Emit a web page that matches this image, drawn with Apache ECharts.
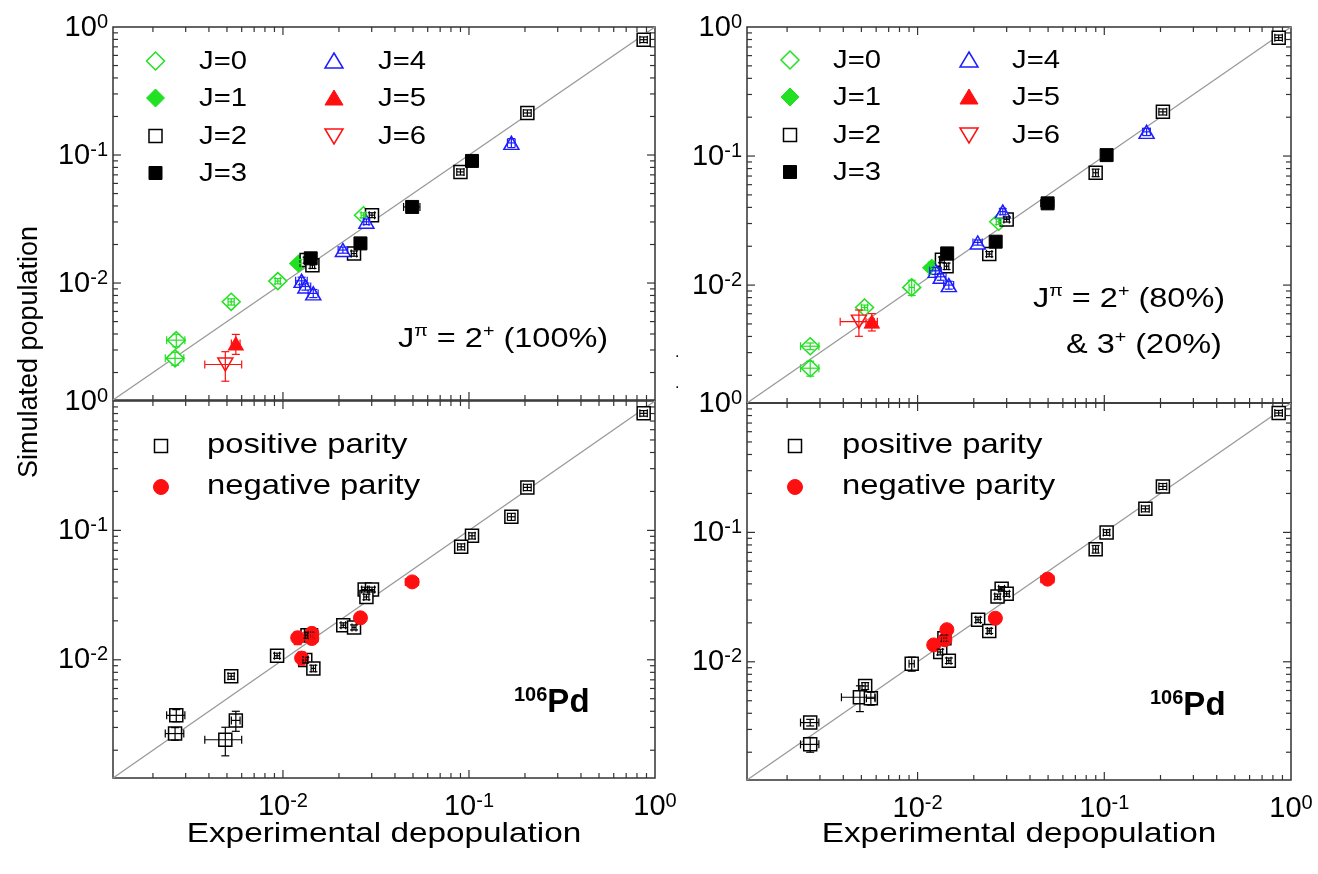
<!DOCTYPE html>
<html><head><meta charset="utf-8">
<script src="https://cdn.jsdelivr.net/npm/echarts@6/dist/echarts.min.js"></script>
<style>html,body{margin:0;padding:0;background:#fff}#c{width:1318px;height:874px}</style>
</head><body><div id="c"></div>
<script>
// ---------- axis ----------
const AXIS_MIN = 0.00122, AXIS_MAX = 1;
const majorTicks = [0.01, 0.1];
const minorTicks = [0.002,0.003,0.004,0.005,0.006,0.007,0.008,0.009,
                    0.02,0.03,0.04,0.05,0.06,0.07,0.08,0.09,
                    0.2,0.3,0.4,0.5,0.6,0.7,0.8,0.9];
const diagonal = [AXIS_MIN, AXIS_MAX];

// ---------- data: [experimental, simulated, xErr, yErr] ----------
// Panel top-left: J^pi = 2+ (100%)
const tlJ0 = [[0.00267,0.00358,0.0003,0.0004],[0.00263,0.00258,0.0003,0.0003],[0.00527,0.00713,0.0002,0.0004],[0.00938,0.01035,0.0003,0.0005],[0.0271,0.0339,0.0008,0.0015]];
const tlJ1 = [[0.01213,0.0142,0.0004,0.0011]];
const tlJ2 = [[0.869,0.796,0.04,0.04],[0.206,0.213,0.01,0.012],[0.090,0.0738,0.004,0.004],[0.0301,0.0339,0.001,0.0015],[0.0241,0.0170,0.0008,0.0008],[0.0134,0.0151,0.0004,0.0008],[0.0144,0.0138,0.0004,0.0008]];
const tlJ3 = [[0.1038,0.0899,0.003,0.003],[0.0495,0.0393,0.005,0.003],[0.0261,0.0204,0.0008,0.001],[0.0141,0.0156,0.0004,0.0008]];
const tlJ4 = [[0.169,0.1243,0.008,0.01],[0.0281,0.0301,0.0009,0.0015],[0.0210,0.0181,0.0012,0.001],[0.0126,0.0104,0.0009,0.0007],[0.0132,0.0094,0.0009,0.0006],[0.01455,0.0083,0.0009,0.0006]];
const tlJ5 = [[0.00558,0.00337,0.0003,0.0006]];
const tlJ6 = [[0.0049,0.00231,0.0011,0.0006]];

// Panel top-right: J^pi = 2+ (80%) & 3+ (20%)
const trJ0 = [[0.00266,0.00336,0.0003,0.0002],[0.00266,0.00227,0.0003,0.0003],[0.0052,0.0067,0.0002,0.0003],[0.0093,0.0096,0.0003,0.0013],[0.0272,0.0310,0.0008,0.0015]];
const trJ1 = [[0.0119,0.0136,0.0004,0.0015]];
const trJ2 = [[0.859,0.827,0.04,0.04],[0.206,0.220,0.01,0.012],[0.0899,0.0742,0.003,0.005],[0.030,0.0323,0.001,0.0015],[0.0242,0.0174,0.0008,0.0008],[0.0135,0.0157,0.0004,0.0008],[0.0143,0.0140,0.0004,0.0008]];
const trJ3 = [[0.1029,0.1017,0.003,0.003],[0.0497,0.0430,0.004,0.002],[0.0262,0.0217,0.0008,0.001],[0.0144,0.0176,0.0004,0.001]];
const trJ4 = [[0.1685,0.154,0.008,0.01],[0.0286,0.0371,0.0009,0.002],[0.0210,0.0214,0.0012,0.001],[0.0125,0.0129,0.0009,0.0008],[0.0133,0.0116,0.0009,0.0007],[0.0147,0.0100,0.0009,0.0007]];
const trJ5 = [[0.00569,0.00521,0.0004,0.0008]];
const trJ6 = [[0.00485,0.00521,0.001,0.0012]];

// Panel bottom-left: parity, 2+ (100%)
const blPos = [[0.869,0.803,0.04,0.04],[0.206,0.215,0.01,0.012],[0.169,0.1274,0.008,0.008],[0.1038,0.0908,0.004,0.005],[0.0908,0.0747,0.004,0.004],[0.0275,0.0349,0.001,0.0015],[0.0301,0.0349,0.001,0.0015],[0.0281,0.0306,0.0009,0.0015],[0.0211,0.0185,0.0006,0.0008],[0.0241,0.0178,0.0006,0.0008],[0.01355,0.0155,0.0004,0.0008],[0.01416,0.0155,0.0004,0.0008],[0.0093,0.01075,0.0003,0.0005],[0.01318,0.00995,0.0004,0.0005],[0.01457,0.00858,0.0004,0.0005],[0.00527,0.00746,0.0002,0.0004],[0.00267,0.00372,0.0003,0.0004],[0.00263,0.00269,0.0003,0.0003],[0.00558,0.0034,0.0003,0.0006],[0.0049,0.00241,0.0011,0.0006]];
const blNeg = [[0.0495,0.040,0.004,0.003],[0.0261,0.0211,0.0008,0.0012],[0.0143,0.0160,0.0004,0.001],[0.0143,0.0146,0.0004,0.001],[0.0120,0.0148,0.0005,0.0017],[0.0126,0.0103,0.0005,0.0012]];

// Panel bottom-right: parity, 2+ (80%) & 3+ (20%)
const brPos = [[0.859,0.837,0.04,0.04],[0.206,0.2266,0.01,0.012],[0.166,0.1522,0.008,0.008],[0.1029,0.0999,0.004,0.005],[0.0899,0.0742,0.003,0.005],[0.0282,0.0366,0.001,0.0015],[0.030,0.0335,0.001,0.0015],[0.0268,0.0319,0.0009,0.0015],[0.0211,0.0211,0.0006,0.001],[0.0242,0.01733,0.0006,0.0008],[0.01392,0.0152,0.0004,0.0008],[0.01322,0.0119,0.0004,0.0006],[0.0147,0.0102,0.0004,0.0005],[0.0093,0.00966,0.0003,0.0012],[0.00524,0.0065,0.0002,0.0004],[0.00491,0.00532,0.001,0.0012],[0.00562,0.00522,0.0003,0.0006],[0.00266,0.00339,0.0003,0.0002],[0.00266,0.0023,0.0003,0.0003]];
const brNeg = [[0.0497,0.0435,0.004,0.002],[0.0261,0.0217,0.0008,0.001],[0.01435,0.0177,0.0004,0.001],[0.0140,0.0148,0.0004,0.001],[0.0122,0.0135,0.0005,0.0012]];

// ---------- styling ----------
const FONT = '"Liberation Sans", Arial, Helvetica, sans-serif';
const GREEN = '#22e022', BLUE = '#1c1cff', RED = '#ff1010', BLACK = '#000000';
const styles = {
  J0: {symbol:'diamond', size:[18,17], color:GREEN, open:true, rot:0},
  J1: {symbol:'diamond', size:[18,17], color:GREEN, open:false, rot:0},
  J2: {symbol:'rect', size:[13,13], color:BLACK, open:true, rot:0},
  J3: {symbol:'rect', size:[13,13], color:BLACK, open:false, rot:0},
  J4: {symbol:'triangle', size:[15,13], color:BLUE, open:true, rot:0},
  J5: {symbol:'triangle', size:[15,13], color:RED, open:false, rot:0},
  J6: {symbol:'triangle', size:[15,13], color:RED, open:true, rot:180},
  POS: {symbol:'rect', size:[13,13], color:BLACK, open:true, rot:0},
  NEG: {symbol:'circle', size:[14,14], color:RED, open:false, rot:0}
};
const panels = [
  [['J=0',tlJ0,'J0'],['J=1',tlJ1,'J1'],['J=2',tlJ2,'J2'],['J=3',tlJ3,'J3'],['J=4',tlJ4,'J4'],['J=5',tlJ5,'J5'],['J=6',tlJ6,'J6']],
  [['J=0',trJ0,'J0'],['J=1',trJ1,'J1'],['J=2',trJ2,'J2'],['J=3',trJ3,'J3'],['J=4',trJ4,'J4'],['J=5',trJ5,'J5'],['J=6',trJ6,'J6']],
  [['positive parity',blPos,'POS'],['negative parity',blNeg,'NEG']],
  [['positive parity',brPos,'POS'],['negative parity',brNeg,'NEG']]
];
const grids = [
  {left:113, top:27, width:542, height:373},
  {left:747, top:27, width:544, height:376},
  {left:113, top:401, width:542, height:377},
  {left:747, top:403, width:544, height:377}
];

function powLabel(v) {
  const e = Math.log10(v), r = Math.round(e);
  if (Math.abs(e - r) > 1e-6) return '';
  return '{b|10}{s|' + (r === 0 ? '0' : String(r)) + '}';
}
const labelRich = {
  b: {fontSize:29, fontFamily:FONT, color:'#000', lineHeight:30, verticalAlign:'bottom'},
  s: {fontSize:20, fontFamily:FONT, color:'#000', lineHeight:14, verticalAlign:'top'}
};

function errRender(color) {
  return function (params, api) {
    const x = api.value(0), y = api.value(1), dx = api.value(2), dy = api.value(3);
    const c = api.coord([x, y]);
    const xl = api.coord([x - dx, y])[0], xr = api.coord([x + dx, y])[0];
    const yb = api.coord([x, y - dy])[1], yt = api.coord([x, y + dy])[1];
    const cap = 4;
    const st = {stroke: color, lineWidth: 1.2, fill: null};
    return {type:'group', children:[
      {type:'line', shape:{x1:xl, y1:c[1], x2:xr, y2:c[1]}, style:st},
      {type:'line', shape:{x1:xl, y1:c[1]-cap, x2:xl, y2:c[1]+cap}, style:st},
      {type:'line', shape:{x1:xr, y1:c[1]-cap, x2:xr, y2:c[1]+cap}, style:st},
      {type:'line', shape:{x1:c[0], y1:yb, x2:c[0], y2:yt}, style:st},
      {type:'line', shape:{x1:c[0]-cap, y1:yb, x2:c[0]+cap, y2:yb}, style:st},
      {type:'line', shape:{x1:c[0]-cap, y1:yt, x2:c[0]+cap, y2:yt}, style:st}
    ]};
  };
}

function tickRender(params, api) {
  const v = api.value(0), axis = api.value(2), major = api.value(3);
  const cs = params.coordSys;
  const len = major ? 8 : 5;
  const st = {stroke:'#333', lineWidth:1.2, fill:null};
  if (axis === 0) {
    const px = api.coord([v, AXIS_MIN])[0];
    return {type:'group', children:[
      {type:'line', shape:{x1:px, y1:cs.y, x2:px, y2:cs.y+len}, style:st},
      {type:'line', shape:{x1:px, y1:cs.y+cs.height, x2:px, y2:cs.y+cs.height-len}, style:st}
    ]};
  }
  const py = api.coord([AXIS_MIN, v])[1];
  return {type:'group', children:[
    {type:'line', shape:{x1:cs.x, y1:py, x2:cs.x+len, y2:py}, style:st},
    {type:'line', shape:{x1:cs.x+cs.width, y1:py, x2:cs.x+cs.width-len, y2:py}, style:st}
  ]};
}
const tickData = [];
majorTicks.forEach(v => { tickData.push([v, v, 0, 1]); tickData.push([v, v, 1, 1]); });
minorTicks.forEach(v => { tickData.push([v, v, 0, 0]); tickData.push([v, v, 1, 0]); });

const series = [];
grids.forEach((g, i) => {
  series.push({type:'line', xAxisIndex:i, yAxisIndex:i, data:[[diagonal[0], diagonal[0]],[diagonal[1], diagonal[1]]],
    symbol:'none', silent:true, lineStyle:{color:'#999', width:1.3}, z:1, animation:false});
  series.push({type:'custom', xAxisIndex:i, yAxisIndex:i, data:tickData, renderItem:tickRender,
    encode:{x:0, y:1}, clip:false, silent:true, z:2, animation:false});
  panels[i].forEach(([name, data, key]) => {
    const s = styles[key];
    series.push({type:'scatter', name:name, xAxisIndex:i, yAxisIndex:i, data:data.map(d => [d[0], d[1]]),
      symbol:s.symbol, symbolSize:s.size, symbolRotate:s.rot, clip:false,
      itemStyle: s.open ? {color:'#fff', borderColor:s.color, borderWidth:1.5, opacity:1}
                        : {color:s.color, borderColor:s.color, borderWidth:1, opacity:1},
      z:3, animation:false});
    series.push({type:'custom', xAxisIndex:i, yAxisIndex:i, data:data, renderItem:errRender(s.color),
      encode:{x:0, y:1}, clip:false, silent:true, z:4, animation:false});
  });
});

// ---------- graphic: legends, annotations, titles ----------
const graphic = [];
function marker(key, cx, cy) {
  const s = styles[key];
  const st = s.open ? {fill:'#fff', stroke:s.color, lineWidth:1.5} : {fill:s.color, stroke:s.color, lineWidth:1};
  if (s.symbol === 'diamond') return {type:'polygon', shape:{points:[[cx,cy-9],[cx+9,cy],[cx,cy+9],[cx-9,cy]]}, style:st};
  if (s.symbol === 'rect') return {type:'rect', shape:{x:cx-6.5, y:cy-6.5, width:13, height:13}, style:st};
  if (s.symbol === 'circle') return {type:'circle', shape:{cx:cx, cy:cy, r:7.5}, style:st};
  if (s.rot === 180) return {type:'polygon', shape:{points:[[cx-9,cy-7],[cx+9,cy-7],[cx,cy+8]]}, style:st};
  return {type:'polygon', shape:{points:[[cx,cy-8],[cx+9,cy+7],[cx-9,cy+7]]}, style:st};
}
function label(text, x, y, size, sx) {
  return {type:'text', x:x, y:y, scaleX:sx || 1,
    style:{text:text, fontSize:size, fontFamily:FONT, fill:'#000', align:'left', verticalAlign:'middle',
           textAlign:'left', textVerticalAlign:'middle'}};
}
// J legends (top panels)
const jLegendLayout = [
  {col1:[155.5, 199], col2:[334, 378], rows:[61, 98, 136, 173]},
  {col1:[790, 833], col2:[969, 1012], rows:[60, 97, 135, 172]}
];
[0, 1].forEach(p => {
  const L = jLegendLayout[p];
  panels[p].forEach(([name, data, key], idx) => {
    const col = idx < 4 ? L.col1 : L.col2;
    const y = L.rows[idx < 4 ? idx : idx - 4];
    graphic.push(marker(key, col[0], y));
    graphic.push(label(name, col[1], y + 1, 25, 1.17));
  });
});
// parity legends (bottom panels)
const pLegendLayout = [
  {mx:161, tx:207, rows:[446, 487]},
  {mx:795, tx:842, rows:[446, 487]}
];
[2, 3].forEach((p, j) => {
  const L = pLegendLayout[j];
  panels[p].forEach(([name, data, key], idx) => {
    graphic.push(marker(key, L.mx, L.rows[idx]));
    graphic.push(label(name, L.tx, L.rows[idx] - 1, 28, 1.17));
  });
});
// annotations
const annRich = {
  n: {fontSize:28, fontFamily:FONT, fill:'#000', lineHeight:30, verticalAlign:'bottom'},
  s: {fontSize:17, fontFamily:FONT, fill:'#000', lineHeight:10, verticalAlign:'top'}
};
function annot(text, x, y) {
  return {type:'text', x:x, y:y, scaleX:1.16,
    style:{text:text, rich:annRich, align:'left', verticalAlign:'middle', textAlign:'left', textVerticalAlign:'middle'}};
}
graphic.push(annot('{n|J}{s|\u03c0}{n| = 2}{s|+}{n| (100%)}', 398, 338));
graphic.push(annot('{n|J}{s|\u03c0}{n| = 2}{s|+}{n| (80%)}', 1033, 298));
graphic.push(annot('{n|& 3}{s|+}{n| (20%)}', 1066, 344));
const pdRich = {
  p: {fontSize:33, fontWeight:'bold', fontFamily:FONT, fill:'#000', lineHeight:34, verticalAlign:'bottom'},
  s: {fontSize:20, fontWeight:'bold', fontFamily:FONT, fill:'#000', lineHeight:10, verticalAlign:'top'}
};
function pd(x, y) {
  return {type:'text', x:x, y:y, style:{text:'{s|106}{p|Pd}', rich:pdRich, align:'left', verticalAlign:'middle',
    textAlign:'left', textVerticalAlign:'middle'}};
}
graphic.push(pd(514, 702));
graphic.push(pd(1150, 705));
// axis titles
graphic.push({type:'text', x:384, y:834, scaleX:1.19,
  style:{text:'Experimental depopulation', fontSize:28, fontFamily:FONT, fill:'#000', align:'center', verticalAlign:'middle', textAlign:'center', textVerticalAlign:'middle'}});
graphic.push({type:'text', x:1019, y:834, scaleX:1.19,
  style:{text:'Experimental depopulation', fontSize:28, fontFamily:FONT, fill:'#000', align:'center', verticalAlign:'middle', textAlign:'center', textVerticalAlign:'middle'}});
graphic.push({type:'text', x:30, y:352, rotation:Math.PI/2,
  style:{text:'Simulated population', fontSize:27, fontFamily:FONT, fill:'#000', align:'center', verticalAlign:'middle', textAlign:'center', textVerticalAlign:'middle'}});
// stray dots near the right panel's axis
graphic.push(label('.', 675, 353, 16, 1));
graphic.push(label('.', 675, 384, 16, 1));

const option = {
  backgroundColor:'#fff',
  animation:false,
  grid: grids.map(g => Object.assign({show:true, borderColor:'#333', borderWidth:1.5, backgroundColor:'transparent',
    containLabel:false, outerBoundsMode:'none'}, g)),
  xAxis: grids.map((g, i) => ({type:'log', logBase:10, gridIndex:i, min:AXIS_MIN, max:AXIS_MAX,
    axisLine:{show:false}, axisTick:{show:false}, splitLine:{show:false}, minorTick:{show:false}, minorSplitLine:{show:false},
    axisLabel:{show:i >= 2, formatter:powLabel, margin:13, rich:labelRich, showMinLabel:true, showMaxLabel:true, hideOverlap:false}})),
  yAxis: grids.map((g, i) => ({type:'log', logBase:10, gridIndex:i, min:AXIS_MIN, max:AXIS_MAX,
    axisLine:{show:false}, axisTick:{show:false}, splitLine:{show:false}, minorTick:{show:false}, minorSplitLine:{show:false},
    axisLabel:{show:true, formatter:powLabel, margin:5, rich:labelRich, showMinLabel:true, showMaxLabel:true, hideOverlap:false}})),
  series: series,
  graphic: {elements: graphic}
};
const chart = echarts.init(document.getElementById('c'));
chart.setOption(option);
</script>
</body></html>
